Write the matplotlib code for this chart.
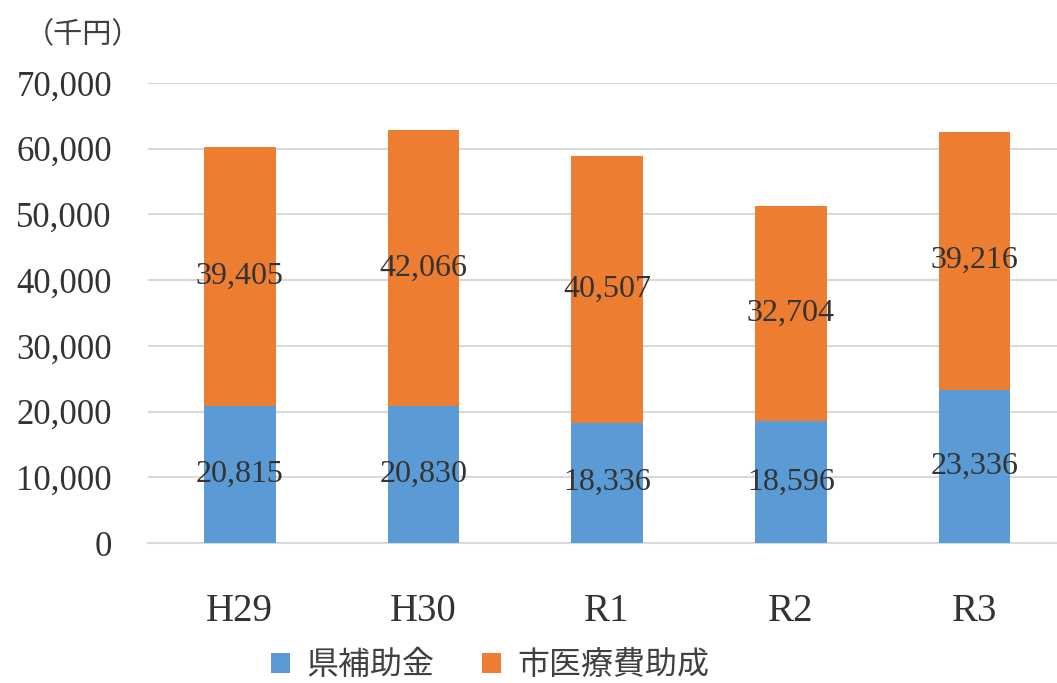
import matplotlib
matplotlib.use("Agg")
import matplotlib.pyplot as plt
import numpy as np

years = ["H29", "H30", "R1", "R2", "R3"]
ken = [20815, 20830, 18336, 18596, 23336]      # 県補助金
shi = [39405, 42066, 40507, 32704, 39216]      # 市医療費助成
series_names = ["県補助金", "市医療費助成"]
blue = "#5B9BD5"
orange = "#ED7D31"

serif = ["Liberation Serif", "DejaVu Serif"]
jp = ["Noto Sans CJK JP", "DejaVu Sans"]

fig = plt.figure(figsize=(10.57, 6.83), dpi=100)
ax = fig.add_axes([148 / 1057, 140 / 683, 909 / 1057, 460 / 683])

x = np.arange(len(years))
w = 0.39
b1 = ax.bar(x, ken, w, color=blue, label=series_names[0], zorder=3)
b2 = ax.bar(x, shi, w, bottom=ken, color=orange, label=series_names[1], zorder=3)

# data labels in the middle of each segment
for i in range(len(years)):
    ax.text(x[i], ken[i] / 2, f"{ken[i]:,}", ha="center", va="center",
            fontsize=23, family=serif, color="#333333", zorder=4)
    ax.text(x[i], ken[i] + shi[i] / 2, f"{shi[i]:,}", ha="center", va="center",
            fontsize=23, family=serif, color="#333333", zorder=4)

ax.set_ylim(0, 70000)
ax.set_xlim(-0.5, 4.45)
ax.set_yticks(np.arange(0, 70001, 10000))
ax.set_yticklabels([f"{v:,}" for v in range(0, 70001, 10000)], family=serif,
                   fontsize=25, color="#333333")
ax.set_xticks(x)
ax.set_xticklabels(years, family=serif, fontsize=28, color="#333333")
ax.tick_params(axis="both", length=0)
ax.tick_params(axis="y", pad=26)
ax.tick_params(axis="x", pad=36)
ax.grid(axis="y", color="#d9d9d9", linewidth=1.5, zorder=0)
for s in ["top", "right", "left"]:
    ax.spines[s].set_visible(False)
ax.spines["bottom"].set_color("#d9d9d9")
ax.spines["bottom"].set_linewidth(1.5)

fig.text(25 / 1057, 1 - 35 / 683, "（千円）", family=jp, fontsize=21,
         color="#404040", va="center", ha="left")

fig.legend(handles=[b1, b2], loc="center", bbox_to_anchor=(490 / 1057, 1 - 665 / 683),
           ncol=2, frameon=False, prop={"family": jp, "size": 23},
           handlelength=0.6, handleheight=0.6, handletextpad=0.5, columnspacing=1.5,
           labelcolor="#404040")

fig.savefig("out.png", dpi=100)
